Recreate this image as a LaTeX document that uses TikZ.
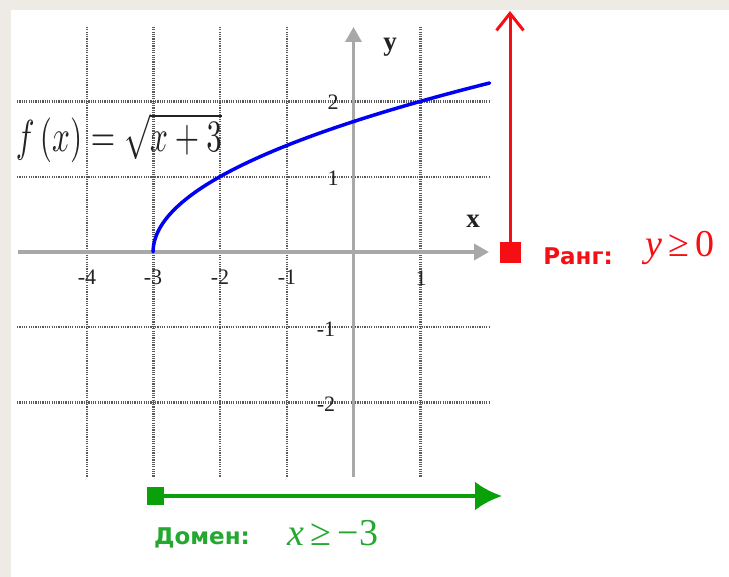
\documentclass[tikz,border=0pt]{standalone}
\usepackage{fontspec}
\usepackage{graphicx}
\usetikzlibrary{arrows.meta}
\setmainfont{Liberation Serif}
\newfontfamily\lblfont{DejaVu Sans}
\definecolor{bgbeige}{HTML}{EEEBE4}
\definecolor{gridcol}{HTML}{5A5A5A}
\definecolor{axiscol}{HTML}{A8A8A8}
\definecolor{tickcol}{HTML}{222222}
\definecolor{curveblue}{HTML}{0000F5}
\definecolor{rangered}{HTML}{F50F14}
\definecolor{domgreen}{HTML}{0AA00A}
\definecolor{domtext}{HTML}{25A830}
\tikzset{
  gridline/.style={draw=gridcol, line width=2.2pt, dash pattern=on 1.2pt off 1.1pt},
  axisline/.style={draw=axiscol, line width=3.5pt, -{Triangle[length=15pt,width=16pt]}},
  ticklbl/.style={font=\fontsize{22}{22}\selectfont, text=tickcol, inner sep=0pt},
  axislbl/.style={font=\bfseries\fontsize{27}{27}\selectfont, text=tickcol, inner sep=0pt},
  sqmark/.style={minimum size=#1, inner sep=0pt, draw=none},
  rangearrow/.style={draw=rangered, line width=3pt, -{Straight Barb[length=17pt,width=27pt,line width=3pt]}},
  domarrow/.style={draw=domgreen, line width=4pt, -{Latex[length=27pt,width=29pt]}},
  sidelbl/.style={font=\lblfont\bfseries\fontsize{23}{23}\selectfont, inner sep=0pt},
  ineqlbl/.style={font=\fontsize{38}{38}\selectfont, inner sep=0pt}
}
\begin{document}
\begin{tikzpicture}[x=1pt,y=-1pt]
\useasboundingbox (0,0) rectangle (729,577);
\fill[bgbeige] (0,0) rectangle (729,577);
\fill[white] (11,10) rectangle (729,577);
% grid
\foreach \gx in {87,153.5,220,287,420.5} \draw[gridline] (\gx,27) -- (\gx,477);
\foreach \gy in {101.5,177,327,402.5} \draw[gridline] (17,\gy) -- (490,\gy);
% axes
\coordinate (xs) at (18,252);
\coordinate (xe) at (489,252);
\coordinate (ys) at (353.5,477);
\coordinate (ye) at (353.5,27);
\draw[axisline] (xs) -- (xe);
\draw[axisline] (ys) -- (ye);
\node[axislbl] (xl) at (473,221) {x};
\node[axislbl] (yl) at (390,47) {y};
% tick labels
\node[ticklbl] (tm4) at (87,277) {-4};
\node[ticklbl] (tm3) at (153,277) {-3};
\node[ticklbl] (tm2) at (220,277) {-2};
\node[ticklbl] (tm1) at (287,277) {-1};
\node[ticklbl] (tp1) at (421,278) {1};
\node[ticklbl] (ty2) at (333,102) {2};
\node[ticklbl] (ty1) at (333,178) {1};
\node[ticklbl] (tym1) at (326,329) {-1};
\node[ticklbl] (tym2) at (326,404) {-2};
% curve
\draw[curveblue, line width=3.5pt, line cap=round] plot[domain=0:2.245, samples=80, smooth, variable=\s] ({353.5+66.8*(\s*\s-3)}, {252-75.3*\s});
% formula
\node[inner sep=0pt, text=tickcol] (fx) at (119,138) {\resizebox*{206pt}{50pt}{$f\left(x\right)=\sqrt{x+3}$}};
% range
\node[sqmark=21pt, fill=rangered] (rsq) at (510,253) {};
\coordinate (rtop) at (510,11);
\draw[rangearrow] (rsq.center) -- (rtop);
\node[sidelbl, text=rangered] (rl) at (578,256) {Ранг:};
\node[ineqlbl, text=rangered] (rv) at (680,248) {\textit{y}\,≥\,0};
% domain
\node[sqmark=17pt, fill=domgreen] (gsq) at (155,496) {};
\coordinate (gend) at (502,496);
\draw[domarrow] (gsq.center) -- (gend);
\node[sidelbl, text=domtext] (dl) at (202,538) {Домен:};
\node[ineqlbl, text=domtext] (dv) at (333,533) {\textit{x}\,≥\,−3};
\end{tikzpicture}
\end{document}
